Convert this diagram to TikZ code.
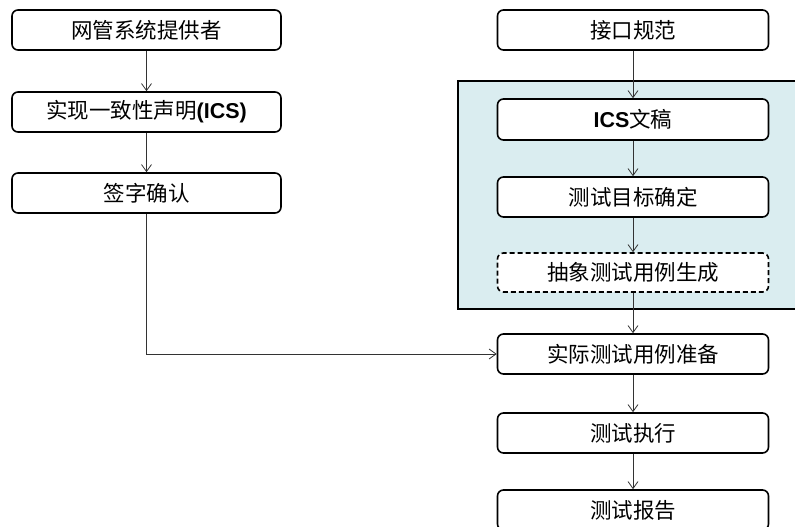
\documentclass[tikz,border=0pt]{standalone}
\usepackage{fontspec}
\setmainfont{Liberation Sans}
\newfontfamily\cjk{Noto Sans CJK SC}
\newcommand\latb[1]{{\rmfamily\bfseries #1}}
\usetikzlibrary{arrows.meta}
\definecolor{panelblue}{HTML}{DAEDF0}
\begin{document}
\begin{tikzpicture}[x=1pt,y=-1pt,
  box/.style={draw=black,line width=1.6pt,rounded corners=6pt,fill=white,inner sep=0pt,
    font=\fontsize{21.5}{21.5}\selectfont\cjk},
  dbox/.style={box,dashed,dash pattern=on 5pt off 3pt},
  conn/.style={draw=black!80,line width=0.8pt,-{Straight Barb[length=7pt,width=10pt]}}]
\useasboundingbox (0,0) rectangle (795,527);
\draw[fill=panelblue,line width=1.6pt] (458,81) rectangle (800,309);
% left column
\node[box,minimum width=269pt,minimum height=40pt] (a1) at (146.5,30) {网管系统提供者};
\node[box,minimum width=269pt,minimum height=40pt] (a2) at (146.5,112) {实现一致性声明\latb{(ICS)}};
\node[box,minimum width=269pt,minimum height=40pt] (a3) at (146.5,193) {签字确认};
% right column
\node[box,minimum width=271pt,minimum height=40pt] (b1) at (633,30) {接口规范};
\node[box,minimum width=271pt,minimum height=41pt] (b2) at (633,119.5) {\latb{ICS}文稿};
\node[box,minimum width=271pt,minimum height=40pt] (b3) at (633,197) {测试目标确定};
\node[dbox,minimum width=271pt,minimum height=39pt] (b4) at (633,272.5) {抽象测试用例生成};
\node[box,minimum width=271pt,minimum height=40pt] (b5) at (633,354) {实际测试用例准备};
\node[box,minimum width=271pt,minimum height=40pt] (b6) at (633,433) {测试执行};
\node[box,minimum width=271pt,minimum height=40pt] (b7) at (633,510) {测试报告};
% connectors
\draw[conn] (a1) -- (a2);
\draw[conn] (a2) -- (a3);
\draw[conn] (a3.south) |- (b5.west);
\draw[conn] (b1) -- (b2);
\draw[conn] (b2) -- (b3);
\draw[conn] (b3) -- (b4);
\draw[conn] (b4) -- (b5);
\draw[conn] (b5) -- (b6);
\draw[conn] (b6) -- (b7);
\end{tikzpicture}
\end{document}
